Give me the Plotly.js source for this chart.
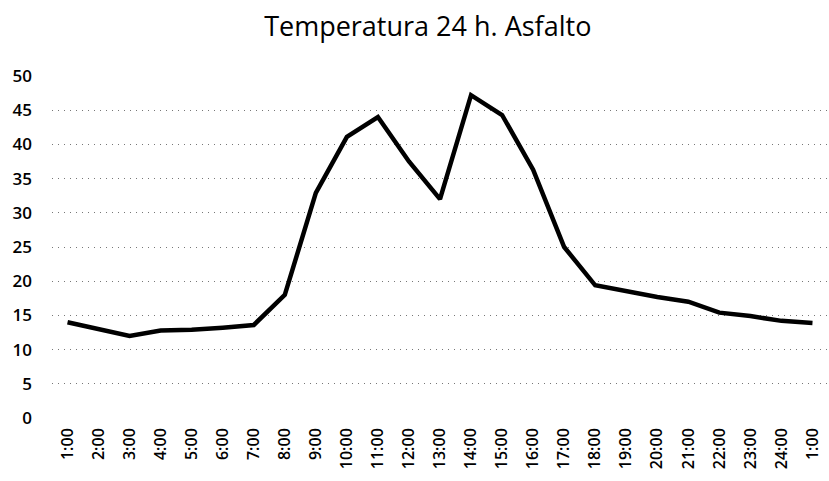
<!DOCTYPE html>
<html>
<head>
<meta charset="utf-8">
<script src="https://cdn.plot.ly/plotly-3.0.1.min.js"></script>
<style>html,body{margin:0;padding:0;background:#fff;}#chart{width:829px;height:481px;}</style>
</head>
<body>
<div id="chart"></div>
<script>
const hours = ["1:00","2:00","3:00","4:00","5:00","6:00","7:00","8:00","9:00","10:00","11:00","12:00","13:00","14:00","15:00","16:00","17:00","18:00","19:00","20:00","21:00","22:00","23:00","24:00","1:00"];
const temperatura = [14, 13, 12, 12.8, 12.9, 13.2, 13.6, 18, 32.9, 41.1, 44, 37.5, 32, 47.2, 44.3, 36.3, 25, 19.4, 18.5, 17.7, 17, 15.4, 14.9, 14.2, 13.9];
const yTicks = [0,5,10,15,20,25,30,35,40,45,50];

const idx = hours.map((h,i)=>i);
const trace = {
  x: idx, y: temperatura, type: 'scatter', mode: 'lines',
  line: {color: '#000', width: 4.5}, hoverinfo: 'skip'
};
const layout = {
  width: 829, height: 481,
  margin: {l: 52, r: 1, t: 76, b: 63},
  paper_bgcolor: '#fff', plot_bgcolor: '#fff',
  showlegend: false,
  title: {text: 'Temperatura 24 h. Asfalto', x: 0.516, xanchor: 'center', yref: 'container', y: 0.965, yanchor: 'top',
          font: {family: 'Open Sans, sans-serif', size: 27, color: '#000'}},
  xaxis: {
    range: [-0.5, 24.5], tickvals: idx, ticktext: hours, tickangle: -90,
    showgrid: false, zeroline: false, showline: false, ticks: '', ticklabelstandoff: 6,
    tickfont: {family: 'Open Sans, sans-serif', size: 16, color: '#000', weight: 600}
  },
  yaxis: {
    range: [0, 50], tickvals: yTicks, ticks: '',
    showgrid: true, gridcolor: '#777', griddash: '1px,5px', gridwidth: 1,
    zeroline: false, showline: false, ticklabelstandoff: 19,
    tickfont: {family: 'Open Sans, sans-serif', size: 17, color: '#000', weight: 600}
  }
};
Plotly.newPlot('chart', [trace], layout, {staticPlot: true, displayModeBar: false});
</script>
</body>
</html>
